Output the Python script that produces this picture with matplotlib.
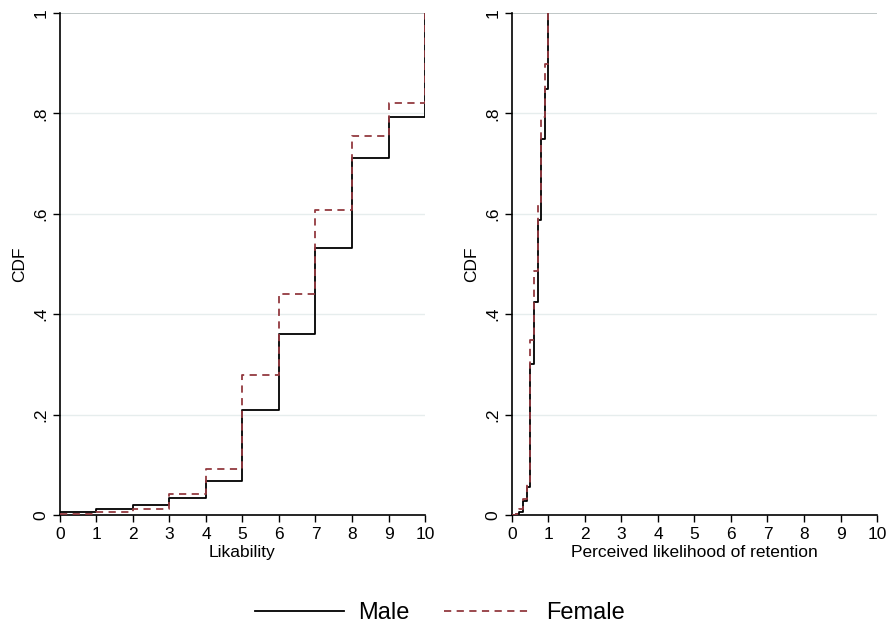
import numpy as np
import matplotlib.pyplot as plt

plt.rcParams['font.family'] = ['Liberation Sans', 'DejaVu Sans']

# Likability (0-10)
like_x = [0, 1, 2, 3, 4, 5, 6, 7, 8, 9, 10]
like_male = [0.005, 0.011, 0.019, 0.034, 0.068, 0.21, 0.36, 0.531, 0.712, 0.793, 1.0]
like_female = [0.003, 0.006, 0.011, 0.042, 0.092, 0.279, 0.441, 0.608, 0.754, 0.821, 1.0]

# Perceived likelihood of retention (0-1)
ret_x = [0, 0.1, 0.2, 0.3, 0.4, 0.5, 0.6, 0.7, 0.8, 0.9, 1.0]
ret_male = [0.0, 0.002, 0.006, 0.028, 0.055, 0.30, 0.424, 0.588, 0.749, 0.848, 1.0]
ret_female = [0.0, 0.002, 0.011, 0.032, 0.063, 0.348, 0.487, 0.623, 0.793, 0.898, 1.0]

xticks = list(range(11))
yticks = [0, 0.2, 0.4, 0.6, 0.8, 1.0]
ylabels = ['0', '.2', '.4', '.6', '.8', '1']

red = '#933a40'

fig = plt.figure(figsize=(8.91, 6.26), dpi=100)
ax1 = fig.add_axes([0.0673, 0.1773, 0.4097, 0.802])
ax2 = fig.add_axes([0.5746, 0.1773, 0.4097, 0.802])

panels = [(ax1, like_x, like_male, like_female, 'Likability'),
          (ax2, ret_x, ret_male, ret_female, 'Perceived likelihood of retention')]

for ax, x, m, f, xl in panels:
    for yv in yticks[1:-1]:
        ax.axhline(yv, color='#e6eded', lw=1, zorder=0)
    ax.axhline(1.0, color='#b4bcbc', lw=1.2, zorder=0)
    ax.step(x, m, where='post', color='black', lw=1.3, label='Male', zorder=3)
    ax.step(x, f, where='post', color=red, lw=1.3, ls=(0, (4, 3)),
            label='Female', zorder=4)
    ax.set_xlim(0, 10)
    ax.set_ylim(0, 1)
    ax.set_xticks(xticks)
    ax.set_yticks(yticks)
    ax.set_yticklabels(ylabels, rotation=90, va='center')
    ax.tick_params(labelsize=12.5, length=5, width=1, colors='black')
    for s in ['top', 'right']:
        ax.spines[s].set_visible(False)
    for s in ['left', 'bottom']:
        ax.spines[s].set_linewidth(1.2)
    ax.set_xlabel(xl, fontsize=12.5, labelpad=2)
    ax.set_ylabel('CDF', fontsize=12.5, labelpad=4)
    ax.margins(0)

handles, labels = ax1.get_legend_handles_labels()
fig.legend(handles, labels, loc='center', bbox_to_anchor=(0.494, 0.02),
           ncol=2, frameon=False, fontsize=17, handlelength=3.75,
           columnspacing=1.45, handletextpad=0.6)

fig.savefig('out.png', dpi=100)
